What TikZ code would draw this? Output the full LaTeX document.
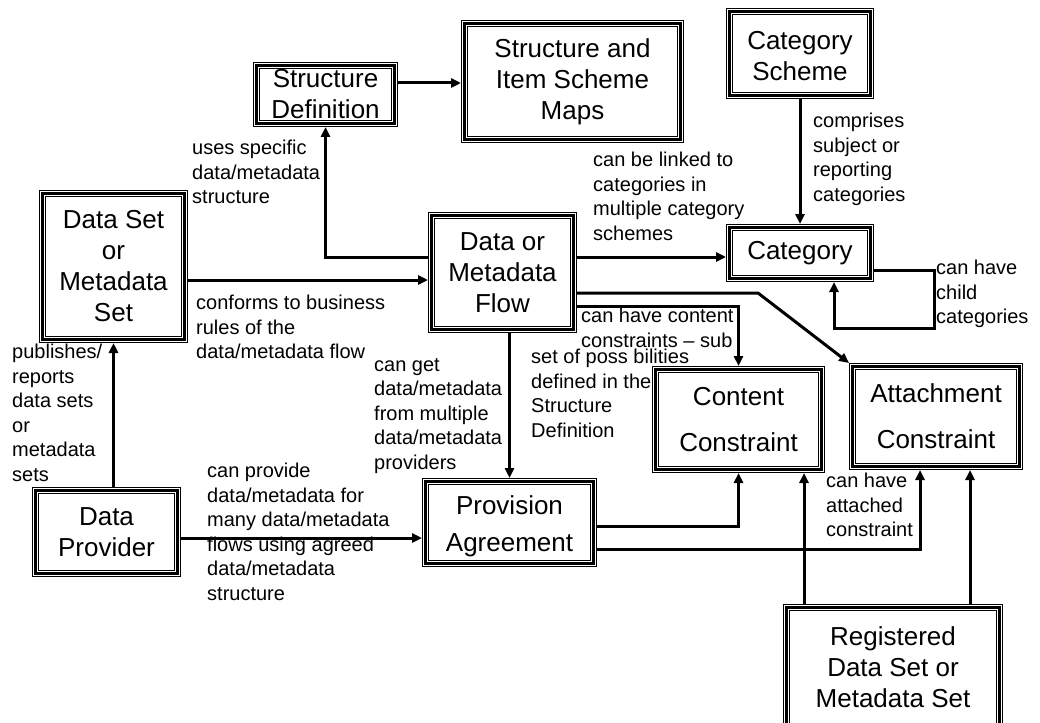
\documentclass[tikz,border=0pt]{standalone}
\usepackage{fontspec}
\setmainfont{Liberation Sans}
\usetikzlibrary{arrows.meta}
\newcommand\boxfont{\fontsize{26}{31}\selectfont}
\newcommand\lblfont{\fontsize{20}{24.5}\selectfont}
\begin{document}
\begin{tikzpicture}[x=1pt,y=-1pt,
  % triple-ruled box: thin, thick, thin
  tbox/.style={rectangle, inner sep=0pt, outer sep=3.5pt, align=center,
    font=\boxfont,
    preaction={fill=white},
    preaction={draw=black, line width=7pt},
    preaction={draw=white, line width=5pt},
    draw=black, line width=3pt},
  lbl/.style={anchor=north west, inner sep=0pt, align=left, font=\lblfont,
    execute at begin node=\strut},
  conn/.style={line width=3pt, -{Triangle[length=10pt,width=9pt]}}]
\useasboundingbox (0,0) rectangle (1040,722);

% entities
\node[tbox, minimum width=138pt, minimum height=58pt]  (SD)   at (325.5,94.5)  {Structure\\Definition};
\node[tbox, minimum width=216pt, minimum height=116pt] (SISM) at (572.5,81.5)  {Structure and\\Item Scheme\\Maps};
\node[tbox, minimum width=141pt, minimum height=84pt]  (CS)   at (800,53.5)    {\rule{0pt}{23pt}Category\\Scheme};
\node[tbox, minimum width=141pt, minimum height=51pt]  (Cat)  at (800,253)     {Category};
\node[tbox, minimum width=142pt, minimum height=146pt] (DS)   at (113.5,266.5) {Data Set\\or\\Metadata\\Set};
\node[tbox, minimum width=142pt, minimum height=114pt] (Flow) at (502.5,272.5) {Data or\\Metadata\\Flow};
\node[tbox, minimum width=166pt, minimum height=100pt] (CC)   at (738.5,419.5) {Content\\[15pt]Constraint};
\node[tbox, minimum width=167pt, minimum height=100pt] (AC)   at (936,416.5)   {Attachment\\[15pt]Constraint};
\node[tbox, minimum width=142pt, minimum height=83pt]  (DP)   at (106.5,532)   {Data\\Provider};
\node[tbox, minimum width=168pt, minimum height=82pt]  (PA)   at (509.5,522.5) {\rule{0pt}{27pt}Provision\\[6pt]Agreement};
\node[tbox, minimum width=213pt, minimum height=119pt] (Reg)  at (893,667)     {Registered\\Data Set or\\Metadata Set};

% relationships
\draw[conn] (SD.east |- 0,83) -- (SISM.west |- 0,83);
\draw[conn] (Flow.west |- 0,257) -| (SD.south);
\draw[conn] (DS.east |- 0,280) -- (Flow.west |- 0,280);
\draw[conn] (DP.north -| DS.south) -- (DS.south);
\draw[conn] (DP.east |- 0,538) -- (PA.west |- 0,538);
\draw[conn] (Flow.south -| PA.north) -- (PA.north);
\draw[conn] (Flow.east |- 0,257) -- (Cat.west |- 0,257);
\draw[conn] (CS.south) -- (Cat.north);
\draw[conn] (Cat.east |- 0,270) -- (934,270) -- (934,328) -- (834,328) -- (834,0 |- Cat.south);
\draw[conn] (Flow.east |- 0,293) -- (758,293) -- (AC.north west);
\draw[conn] (Flow.east |- 0,306) -| (CC.north);
\draw[conn] (PA.east |- 0,526) -| (CC.south);
\draw[conn] (PA.east |- 0,549) -| (920,0 |- AC.south);
\draw[conn] (804,0 |- Reg.north) -- (804,0 |- CC.south);
\draw[conn] (970,0 |- Reg.north) -- (970,0 |- AC.south);

% relationship labels
\node[lbl] (tUses)   at (192,140) {uses specific\\data/metadata\\structure};
\node[lbl] (tConf)   at (196,295) {conforms to business\\rules of the\\data/metadata flow};
\node[lbl] (tPub)    at (12,344)  {publishes/\\reports\\data sets\\or\\metadata\\sets};
\node[lbl] (tGet)    at (374,358) {can get\\data/metadata\\from multiple\\data/metadata\\providers};
\node[lbl] (tProv)   at (207,463) {can provide\\data/metadata for\\many data/metadata\\flows using agreed\\data/metadata\\structure};
\node[lbl] (tLink)   at (593,152) {can be linked to\\categories in\\multiple category\\schemes};
\node[lbl] (tComp)   at (813,113) {comprises\\subject or\\reporting\\categories};
\node[lbl] (tChild)  at (936,260) {can have\\child\\categories};
\node[lbl] (tContA)  at (581,308) {can have content\\constraints – sub};
\node[lbl] (tContB)  at (531,349) {set of poss bilities\\defined in the\\Structure\\Definition};
\node[lbl] (tAtt)    at (826,473) {can have\\attached\\constraint};
\end{tikzpicture}
\end{document}
